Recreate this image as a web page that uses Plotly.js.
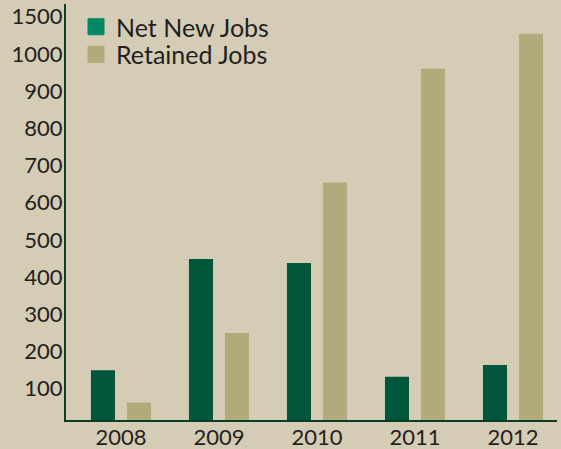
<!DOCTYPE html>
<html>
<head>
<meta charset="utf-8">
<script src="https://cdn.plot.ly/plotly-3.0.1.min.js"></script>
<style>html,body{margin:0;padding:0;background:#D5CCB5;}#chart{width:561px;height:449px;}</style>
</head>
<body>
<div id="chart"></div>
<script>
var years = ["2008", "2009", "2010", "2011", "2012"];
var netNewJobs = [150, 449, 438, 132, 164];
var retainedJobs = [63, 250, 654, 960, 1054];
var tickValues = [100, 200, 300, 400, 500, 600, 700, 800, 900, 1000, 1100];
var tickLabels = ["100", "200", "300", "400", "500", "600", "700", "800", "900", "1000", "1500"];
var seriesNames = ["Net New Jobs", "Retained Jobs"];

var fontFam = "Lato, 'Open Sans', sans-serif";
var barColors = ["#01563B", "#B1AB7B"];
var keyColors = ["#008766", "#B1AB7B"];
var traces = [
  {type: "bar", name: seriesNames[0], x: years, y: netNewJobs, marker: {color: barColors[0]}, showlegend: false},
  {type: "bar", name: seriesNames[1], x: years, y: retainedJobs, marker: {color: barColors[1]}, showlegend: false},
  {type: "scatter", mode: "markers", name: seriesNames[0], x: [years[0]], y: [null], legend: "legend", showlegend: true,
   marker: {symbol: "square", size: 16, color: keyColors[0], line: {width: 1, color: keyColors[0]}}},
  {type: "scatter", mode: "markers", name: seriesNames[1], x: [years[0]], y: [null], legend: "legend2", showlegend: true,
   marker: {symbol: "square", size: 16, color: keyColors[1], line: {width: 1, color: keyColors[1]}}}
];
var legendFont = {family: fontFam, size: 25, color: "#231F20"};
var layout = {
  width: 561, height: 449,
  margin: {l: 66, r: 4, t: 4, b: 29},
  paper_bgcolor: "#D5CCB5", plot_bgcolor: "#D5CCB5",
  font: {family: fontFam, size: 22, color: "#231F20"},
  barmode: "group", bargap: 0.265, bargroupgap: 0.333,
  showlegend: true,
  legend: {x: 0.0204, y: 1, xanchor: "left", yanchor: "top", bgcolor: "rgba(0,0,0,0)", font: legendFont},
  legend2: {x: 0.0204, y: 0.934, xanchor: "left", yanchor: "top", bgcolor: "rgba(0,0,0,0)", font: legendFont},
  xaxis: {type: "category", range: [-0.561, 4.449], showline: true, linecolor: "#0A3D26", linewidth: 2,
          showgrid: false, zeroline: false, ticks: "", tickfont: {size: 22}, ticklabelstandoff: -3},
  yaxis: {range: [16, 1134], showline: true, linecolor: "#0A3D26", linewidth: 2,
          showgrid: false, zeroline: false, ticks: "", tickmode: "array", ticklabelstandoff: -3,
          tickvals: tickValues, ticktext: tickLabels, tickfont: {size: 22}}
};
Plotly.newPlot("chart", traces, layout, {displayModeBar: false, staticPlot: true});
</script>
</body>
</html>
